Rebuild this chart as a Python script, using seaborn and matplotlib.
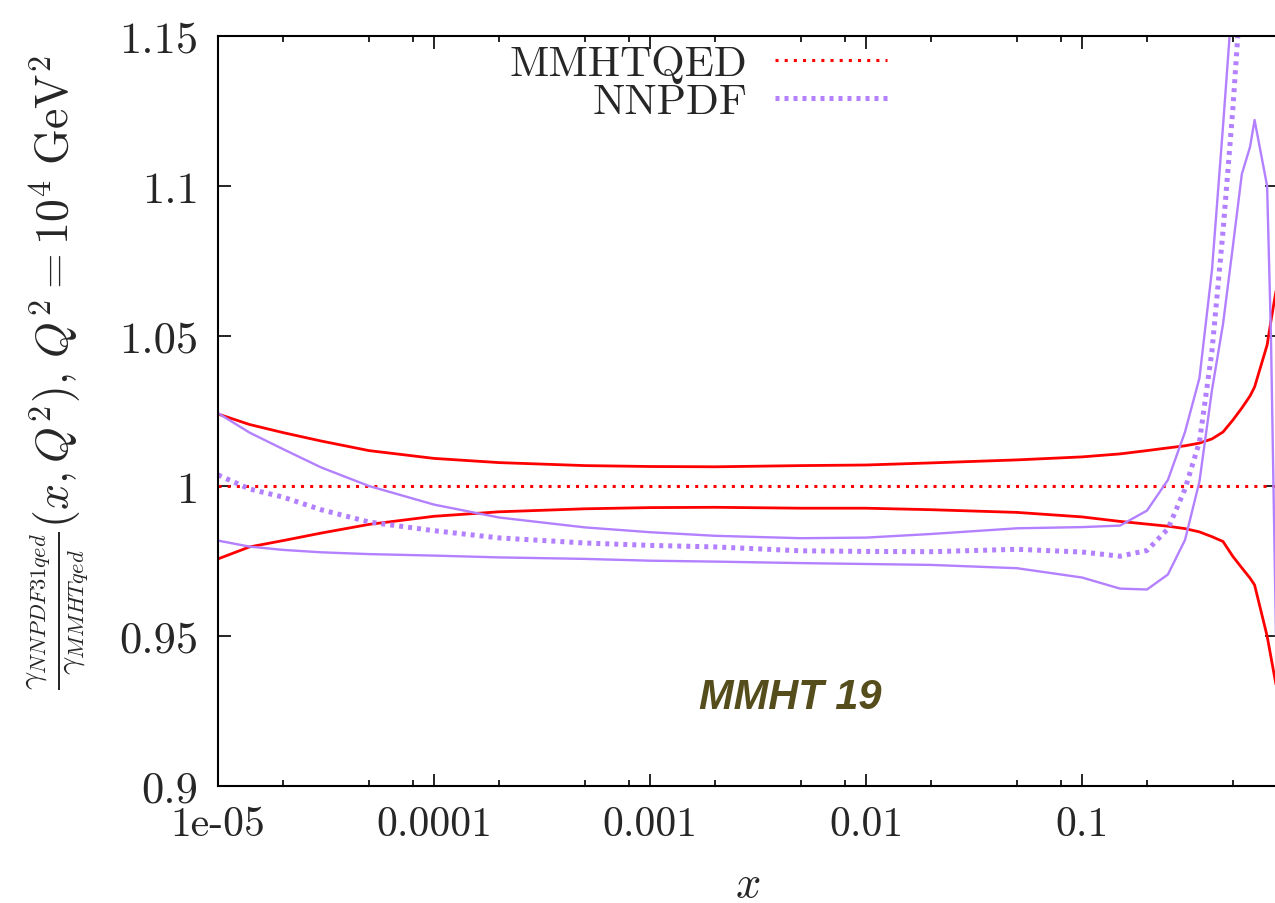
import numpy as np
import pandas as pd
import seaborn as sns
import matplotlib.pyplot as plt
from matplotlib.lines import Line2D
from matplotlib.ticker import LogLocator, NullFormatter

sns.set_style('ticks')
plt.rcParams['font.family'] = 'serif'
plt.rcParams['font.serif'] = ['cmr10', 'DejaVu Serif']
plt.rcParams['mathtext.fontset'] = 'cm'
plt.rcParams['axes.unicode_minus'] = False
plt.rcParams['axes.formatter.use_mathtext'] = True

# ratio to MMHT
x_vals = [1e-5, 1.4e-5, 2e-5, 3e-5, 5e-5, 1e-4, 2e-4, 5e-4, 1e-3, 2e-3, 5e-3,
          1e-2, 2e-2, 5e-2, 0.1, 0.15, 0.2, 0.25, 0.3, 0.35, 0.4, 0.45, 0.5,
          0.55, 0.6, 0.63, 0.72, 0.75, 0.8]
mmht_c = [1.0] * len(x_vals)
mmht_hi = [1.024, 1.0205, 1.0178, 1.015, 1.0118, 1.0092, 1.0078, 1.0068, 1.0065,
           1.0064, 1.0068, 1.007, 1.0077, 1.0087, 1.0097, 1.0107, 1.0118, 1.0127,
           1.0134, 1.0143, 1.0157, 1.018, 1.022, 1.026, 1.030, 1.033, 1.047,
           1.055, 1.067]
mmht_lo = [0.9757, 0.9797, 0.9818, 0.9843, 0.9872, 0.9899, 0.9914, 0.9924, 0.9928,
           0.9929, 0.9926, 0.9926, 0.9921, 0.9912, 0.9897, 0.9882, 0.9873, 0.9866,
           0.9858, 0.9847, 0.9831, 0.9815, 0.9765, 0.9727, 0.9693, 0.967, 0.950,
           0.943, 0.932]
nn_c = [1.0037, 0.999, 0.9963, 0.9921, 0.988, 0.9851, 0.9827, 0.981, 0.9802,
        0.9797, 0.9784, 0.9782, 0.9781, 0.9789, 0.978, 0.9766, 0.9785, 0.9857,
        0.999, 1.0147, 1.045, 1.085, 1.126, 1.17, 1.21,
        np.nan, np.nan, np.nan, np.nan]
nn_hi = [1.0243, 1.0178, 1.0123, 1.0062, 1.0, 0.9938, 0.9895, 0.9862, 0.9846,
         0.9834, 0.9826, 0.9828, 0.984, 0.9859, 0.9863, 0.9868, 0.9918, 1.002,
         1.018, 1.036, 1.072, 1.12, 1.165, 1.21,
         np.nan, np.nan, np.nan, np.nan, np.nan]
nn_lo = [0.9818, 0.9798, 0.9787, 0.9779, 0.9773, 0.9768, 0.9762, 0.9757, 0.9751,
         0.9748, 0.9743, 0.974, 0.9737, 0.9726, 0.9695, 0.9658, 0.9655, 0.9705,
         0.982, 1.0015, 1.032, 1.054, 1.080, 1.104, 1.113, 1.122, 1.100, 1.05,
         0.93]

xticks = [1e-5, 1e-4, 1e-3, 1e-2, 1e-1]
xtick_labels = ['1e-05', '0.0001', '0.001', '0.01', '0.1']
yticks = [0.9, 0.95, 1.0, 1.05, 1.1, 1.15]
ytick_labels = ['0.9', '0.95', '1', '1.05', '1.1', '1.15']

red = '#ff0000'
purple = '#b380ff'

df = pd.DataFrame({'x': x_vals, 'mmht_c': mmht_c, 'mmht_hi': mmht_hi,
                   'mmht_lo': mmht_lo, 'nn_c': nn_c, 'nn_hi': nn_hi, 'nn_lo': nn_lo})

fig = plt.figure(figsize=(12.75, 9.04), dpi=100)
ax = fig.add_axes([218 / 1275, 1 - 787 / 904, (1277 - 218) / 1275, 750 / 904])

red_dot = (0, (1, 2))
nn_dot = (0, (0.8, 1.0))

sns.lineplot(data=df, x='x', y='mmht_c', color=red, lw=2.2, ls=red_dot, estimator=None, ax=ax)
sns.lineplot(data=df, x='x', y='mmht_hi', color=red, lw=2.0, estimator=None, ax=ax)
sns.lineplot(data=df, x='x', y='mmht_lo', color=red, lw=2.0, estimator=None, ax=ax)
sns.lineplot(data=df, x='x', y='nn_c', color=purple, lw=3.6, ls=nn_dot, estimator=None, ax=ax)
sns.lineplot(data=df, x='x', y='nn_hi', color=purple, lw=1.7, estimator=None, ax=ax)
sns.lineplot(data=df, x='x', y='nn_lo', color=purple, lw=1.7, estimator=None, ax=ax)

ax.set_xscale('log')
ax.set_xlim(1e-5, 0.8)
ax.set_ylim(0.9, 1.15)
ax.set_xticks(xticks, labels=xtick_labels)
ax.xaxis.set_minor_locator(LogLocator(base=10, subs=[2, 5, 8]))
ax.xaxis.set_minor_formatter(NullFormatter())
ax.set_yticks(yticks, labels=ytick_labels)

ax.tick_params(which='both', direction='in', top=True, right=True, width=1.2,
               color='black', pad=14)
ax.tick_params(axis='x', labelsize=30)
ax.tick_params(axis='y', labelsize=32)
ax.tick_params(which='major', length=9)
ax.tick_params(which='minor', length=4.5)
for s in ax.spines.values():
    s.set_linewidth(1.5)
    s.set_color('black')

ax.set_xlabel(r'$x$', fontsize=32)
ax.xaxis.set_label_coords(0.5, -0.105)
ax.set_ylabel(r'$\frac{\gamma_{NNPDF31qed}}{\gamma_{MMHTqed}}(x,Q^2),\,Q^2=10^4\ \mathrm{GeV}^2$',
              fontsize=33)
ax.yaxis.set_label_coords(-0.12, 0.553)

ax.text(0.54, 0.104, 'MMHT 19', transform=ax.transAxes, ha='center', va='baseline',
        fontsize=30, fontweight='bold', fontstyle='italic', color='#554e1c',
        family=['Liberation Sans', 'DejaVu Sans'])

handles = [Line2D([], [], color=red, lw=2.2, ls=red_dot),
           Line2D([], [], color=purple, lw=3.6, ls=nn_dot)]
ax.legend(handles, ['MMHTQED', 'NNPDF'], loc='upper right', bbox_to_anchor=(0.632, 0.988),
          frameon=False, markerfirst=False, handlelength=2.6, handletextpad=0.65,
          labelspacing=0, borderpad=0, borderaxespad=0, fontsize=31)

fig.savefig('out.png', dpi=100)
